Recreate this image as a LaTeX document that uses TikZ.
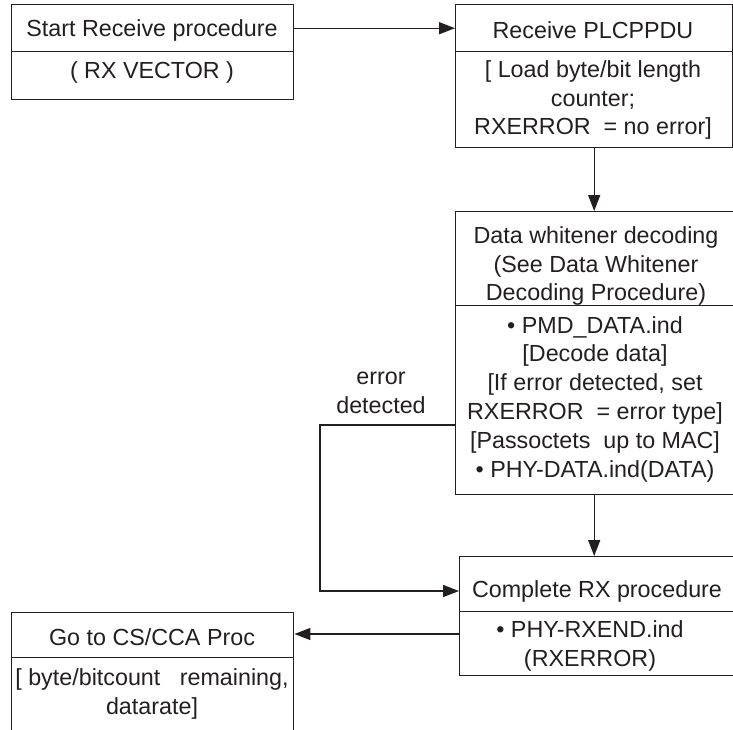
\documentclass[tikz,border=0pt]{standalone}
\usepackage{fontspec}
\setmainfont{Liberation Sans}
\usepackage{xcolor}
\definecolor{cLine}{HTML}{231F20}
\usetikzlibrary{positioning,arrows.meta}
\tikzset{
  node-box/.style={draw=cLine,line width=1.4pt,anchor=north west,inner sep=0pt},
  node-text/.style={align=center,text=cLine,inner sep=0pt,
    font=\fontsize{23.3}{28.8}\selectfont},
  arrow/.style={-{Triangle[length=16pt,width=12pt]},line width=1.4pt,draw=cLine},
}

\begin{document}
\begin{tikzpicture}[x=1pt,y=-1pt]
  \useasboundingbox (0,0) rectangle (733,729);
  % boxes: head + body
  \node[node-box,minimum width=282pt,minimum height=47pt] (start-head) at (11,4) {};
  \node[node-box,minimum width=282pt,minimum height=48pt] (start-body) at (11,51) {};
  \node[node-box,minimum width=277pt,minimum height=47pt] (recv-head) at (455,4) {};
  \node[node-box,minimum width=277pt,minimum height=96pt] (recv-body) at (455,51) {};
  \node[node-box,minimum width=285pt,minimum height=94pt] (white-head) at (455,211) {};
  \node[node-box,minimum width=285pt,minimum height=189pt] (white-body) at (455,305) {};
  \node[node-box,minimum width=281pt,minimum height=55pt] (done-head) at (459,556) {};
  \node[node-box,minimum width=281pt,minimum height=64pt] (done-body) at (459,611) {};
  \node[node-box,minimum width=282pt,minimum height=45pt] (cca-head) at (11,612) {};
  \node[node-box,minimum width=282pt,minimum height=83pt] (cca-body) at (11,657) {};

  % texts
  \node[node-text] (start-title) at (152,30) {Start Receive procedure};
  \node[node-text] (start-arg) at (152,72) {( RX VECTOR )};
  \node[node-text] (recv-title) at (593,30) {Receive PLCPPDU};
  \node[node-text] (recv-text) at (593,100) {{[} Load byte/bit length\\counter;\\RXERROR\ \ = no error]};
  \node[node-text] (white-title) at (596,266) {Data whitener decoding\\(See Data Whitener\\Decoding Procedure)};
  \node[node-text] (white-text) at (595,399) {\textbullet\ PMD\_DATA.ind\\{[}Decode data]\\{[}If error detected, set\\RXERROR\ \ = error type]\\{[}Passoctets\ \ up to MAC]\\\textbullet\ PHY-DATA.ind(DATA)};
  \node[node-text] (done-title) at (597,591) {Complete RX procedure};
  \node[node-text] (done-text) at (590,646) {\textbullet\ PHY-RXEND.ind\\(RXERROR)};
  \node[node-text] (cca-title) at (152,637) {Go to CS/CCA Proc};
  \node[node-text] (cca-text) at (152,694) {{[} byte/bitcount\ \ \ remaining,\\datarate]};
  \node[node-text] (err-label) at (381,393) {error\\detected};

  % connectors
  \coordinate (err-turn) at (320,425);
  \coordinate (err-in) at (320,591);
  \coordinate (cca-in) at (459,634);
  \draw[arrow] (start-head.east) -- (recv-head.west);
  \draw[arrow] (recv-body.south) -- (recv-body.south |- white-head.north);
  \draw[arrow] (white-body.south -| recv-body.south) -- (done-head.north -| recv-body.south);
  \draw[arrow] (err-turn -| white-body.west) -- (err-turn) -- (err-in) -- (err-in -| done-head.west);
  \draw[arrow] (cca-in) -- (cca-in -| cca-head.east);
\end{tikzpicture}
\end{document}
